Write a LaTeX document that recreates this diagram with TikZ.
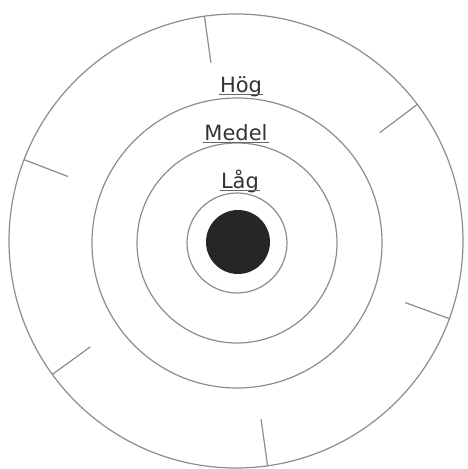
\documentclass[tikz,border=0pt]{standalone}
\usepackage{fontspec}
\setmainfont{DejaVu Sans}
\begin{document}
\begin{tikzpicture}[x=1pt,y=-1pt,
  ring/.style={draw=black!45,line width=1.2pt},
  tickline/.style={draw=black!45,line width=1.2pt},
  lab/.style={font=\fontsize{21}{24}\selectfont, text=black!80, inner sep=1pt, anchor=base},
  uline/.style={draw=black!60,line width=0.9pt}]
\useasboundingbox (0,0) rectangle (468,469);
\coordinate (co) at (236,241);
\coordinate (ci) at (237,243);
\draw[ring] (co) circle[radius=227pt];
\draw[ring] (ci) circle[radius=145pt];
\draw[ring] (ci) circle[radius=100pt];
\draw[ring] (ci) circle[radius=50pt];
\fill[black!85] (238,242) circle[radius=32pt];
\foreach \a in {98,37,159,-20,-144,-82}{
  \draw[tickline] ([shift={(\a:180pt)}]co) -- ([shift={(\a:227pt)}]co);
}
\node[lab] (hog) at (241,92) {Hög};
\node[lab] (medel) at (236,140) {Medel};
\node[lab] (lag) at (240,188) {Låg};
\foreach \n in {hog,medel,lag}{
  \draw[uline] ([yshift=-2pt]\n.base west) -- ([yshift=-2pt]\n.base east);
}
\end{tikzpicture}
\end{document}
